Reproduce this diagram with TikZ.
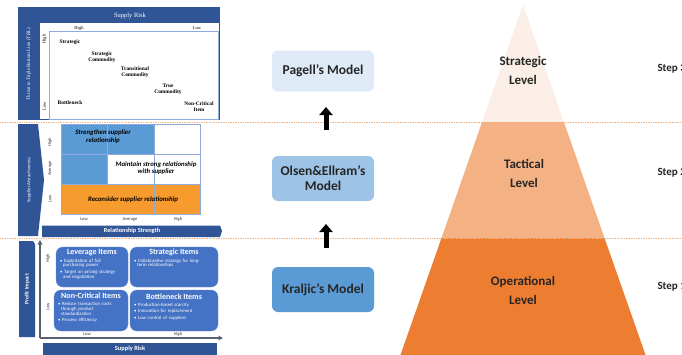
\documentclass[tikz,border=0pt]{standalone}
\usepackage{fontspec}
\setmainfont{Carlito}
\newfontfamily\tms{Liberation Serif}
\usetikzlibrary{arrows.meta}
\definecolor{dkblue}{HTML}{2F5597}
\definecolor{midblue}{HTML}{4472C4}
\definecolor{cellblue}{HTML}{5B9BD5}
\definecolor{gridline}{HTML}{8FAADC}
\definecolor{cellorange}{HTML}{F79B2E}
\definecolor{pyrA}{HTML}{FBEEE6}
\definecolor{pyrB}{HTML}{F4B183}
\definecolor{pyrC}{HTML}{ED7D31}
\definecolor{boxA}{HTML}{DEEBF7}
\definecolor{boxB}{HTML}{9DC3E6}
\definecolor{boxC}{HTML}{5B9BD5}
\definecolor{dashor}{HTML}{F4B183}
\definecolor{axisgray}{HTML}{5A6270}
\tikzset{
  sepline/.style={draw=dashor, line width=0.7pt, dash pattern=on 1pt off 0.7pt},
  modelbox/.style={rounded corners=6pt, minimum width=102pt, minimum height=41pt, align=center, font=\fontsize{13.5}{15}\selectfont\bfseries, text=black!85, inner sep=0pt},
  uparrow/.style={line width=5pt, -{Triangle[width=13pt,length=8pt]}},
  levtext/.style={align=center, font=\fontsize{13}{19}\selectfont\bfseries, text=black!85},
  steptext/.style={anchor=west, font=\fontsize{11}{12}\selectfont\bfseries, text=black!85},
  serlab/.style={align=center, font=\tms\fontsize{5.4}{5.8}\selectfont\bfseries},
  serax/.style={font=\tms\fontsize{4.6}{5}\selectfont},
  whitelab/.style={text=white, align=center},
  gridtext/.style={align=center, font=\fontsize{6.8}{7.4}\selectfont\bfseries\itshape},
  smallax/.style={font=\fontsize{4.5}{5}\selectfont, text=black!80},
  kbox/.style={fill=midblue, draw=midblue!80!white, rounded corners=7pt, line width=0.4pt},
  ktitle/.style={text=white, font=\fontsize{8}{9}\selectfont\bfseries},
  kbullet/.style={text=white, anchor=north west, align=left, font=\fontsize{4.8}{4.9}\selectfont, inner sep=0pt}
}
\begin{document}
\begin{tikzpicture}[x=1pt,y=-1pt]
\useasboundingbox (0,0) rectangle (682,354);
\clip (0,0) rectangle (682,354);
\fill[white] (0,0) rectangle (682,354);

% ---------------- pyramid ----------------
\coordinate (apex) at (523,5);
\coordinate (l1) at (482.1,122); \coordinate (r1) at (563.9,122);
\coordinate (l2) at (441.5,238); \coordinate (r2) at (604.5,238);
\coordinate (l3) at (398,362);   \coordinate (r3) at (648,362);
\fill[pyrA] (apex) -- (r1) -- (l1) -- cycle;
\fill[pyrB] (l1) -- (r1) -- (r2) -- (l2) -- cycle;
\fill[pyrC] (l2) -- (r2) -- (r3) -- (l3) -- cycle;

% separators
\draw[sepline] (0,122) -- (682,122);
\draw[sepline] (0,238) -- (682,238);

\node[levtext] (lvS) at (523,70) {Strategic\\Level};
\node[levtext] (lvT) at (524,173) {Tactical\\Level};
\node[levtext] (lvO) at (523,290) {Operational\\Level};

\node[steptext] (st3) at (654,69) {Step 3};
\node[steptext] (st2) at (654,173) {Step 2};
\node[steptext] (st1) at (654,287) {Step 1};

% ---------------- models ----------------
\node[modelbox, fill=boxA] (pag) at (323,71) {Pagell's Model};
\node[modelbox, fill=boxB, minimum height=45pt] (ols) at (323,178.5) {Olsen\&Ellram's\\Model};
\node[modelbox, fill=boxC, minimum height=45pt] (kra) at (323,289.5) {Kraljic's Model};
\coordinate (a1s) at (326,130); \coordinate (a1e) at (326,107);
\coordinate (a2s) at (326,248); \coordinate (a2e) at (326,224);
\draw[uparrow] (a1s) -- (a1e);
\draw[uparrow] (a2s) -- (a2e);

% ---------------- top-left panel (Pagell) ----------------
\fill[dkblue] (18,7) rectangle (220,120);
\fill[white] (40,23) rectangle (218.5,119);
\draw[gridline, line width=0.6pt] (49,31) rectangle (218,119);
\node[whitelab, font=\tms\fontsize{6.5}{7}\selectfont] (tsr) at (130,15.5) {Supply Risk};
\node[whitelab, rotate=90, font=\tms\fontsize{5}{6}\selectfont] (tbl) at (29,64) {Threat to Triple Bottom Line (TBL)};
\node[serax] (thi) at (79,28) {High};
\node[serax] (tlo) at (197,28) {Low};
\node[serax, rotate=90] (tvh) at (44.5,39) {High};
\node[serax, rotate=90] (tvl) at (44.5,106) {Low};
\node[serlab] (p1) at (70,42) {Strategic};
\node[serlab] (p2) at (102,57) {Strategic\\Commodity};
\node[serlab] (p3) at (135,72) {Transitional\\Commodity};
\node[serlab] (p4) at (168,89) {True\\Commodity};
\node[serlab] (p5) at (70,103) {Bottleneck};
\node[serlab] (p6) at (199,107) {Non-Critical\\Item};

% ---------------- middle-left panel (Olsen & Ellram) ----------------
\fill[dkblue] (18,124) -- (38,124) -- (44,180) -- (38,236) -- (18,236) -- cycle;
\node[whitelab, rotate=90, font=\fontsize{4.8}{6}\selectfont] (satt) at (29,180) {Supplier Attractiveness};
\node[smallax, rotate=90] (mh) at (50,142) {High};
\node[smallax, rotate=90] (ma) at (50,168.5) {Average};
\node[smallax, rotate=90] (ml) at (50,199) {Low};
% cells
\fill[cellblue] (61,124) rectangle (154,154);
\fill[cellblue] (61,154) rectangle (107.5,184.5);
\fill[cellorange] (61,184.5) rectangle (200,214);
\draw[gridline, line width=0.7pt] (61,124) rectangle (200,214);
\draw[gridline, line width=0.7pt] (107.5,124) -- (107.5,214) (154,124) -- (154,214)
  (61,154) -- (200,154) (61,184.5) -- (200,184.5);
\node[gridtext] (g1) at (103,136.5) {Strengthen supplier\\relationship};
\node[gridtext] (g2) at (156,168) {Maintain strong relationship\\with supplier};
\node[gridtext] (g3) at (133,199.5) {Reconsider supplier relationship};
\node[smallax] (bl) at (84,219.5) {Low};
\node[smallax] (ba) at (130,219.5) {Average};
\node[smallax] (bh) at (178,219.5) {High};
\fill[dkblue] (42,225.5) -- (220,225.5) -- (222,231) -- (220,237) -- (42,237) -- cycle;
\node[whitelab, font=\fontsize{6.3}{7}\selectfont\bfseries] (rs) at (132,231) {Relationship Strength};

% ---------------- bottom-left panel (Kraljic) ----------------
\fill[dkblue] (19,241) -- (33,241) -- (35,244) -- (35,337) -- (19,337) -- cycle;
\node[whitelab, rotate=90, font=\fontsize{5.6}{6}\selectfont\bfseries] (pi) at (27,289) {Profit Impact};
\coordinate (orig) at (40,338);
\coordinate (ytop) at (40,240);
\coordinate (xend) at (223,338);
\draw[axisgray, line width=1.2pt, -{Triangle[width=4.5pt,length=4.5pt]}] (orig) -- (ytop);
\draw[axisgray, line width=1.2pt, -{Triangle[width=4.5pt,length=4.5pt]}] (orig) -- (xend);
\node[smallax, rotate=90] (kh) at (48,258) {High};
\node[smallax, rotate=90] (kl) at (48,307) {Low};
\node[smallax] (kxl) at (87,334) {Low};
\node[smallax] (kxh) at (178,334) {High};

\draw[kbox] (56,247) rectangle (128,287);
\draw[kbox] (130,247) rectangle (218,287);
\draw[kbox] (54,290) rectangle (128,331);
\draw[kbox] (130,290) rectangle (218,331);

\node[ktitle] (lev) at (92,252.5) {Leverage Items};
\node[kbullet, text width=64pt] (levb) at (60,258.5) {• Exploitation of full\\\hspace*{3pt}purchasing power\\[1.5pt]• Target on pricing strategy\\\hspace*{3pt}and negotiation};
\node[ktitle] (str) at (174,252.5) {Strategic Items};
\node[kbullet, text width=82pt] (strb) at (134,258.5) {• Collaborative strategy for long-\\\hspace*{3pt}term relationships};
\node[ktitle] (nci) at (91,296) {Non-Critical Items};
\node[kbullet, text width=68pt] (ncib) at (58,302) {• Reduce transaction costs\\\hspace*{3pt}through product\\\hspace*{3pt}standardization\\[1.5pt]• Process efficiency};
\node[ktitle] (bot) at (174,296.5) {Bottleneck Items};
\node[kbullet, text width=82pt] (botb) at (134,303) {• Production-based scarcity\\[1.5pt]• Innovation for replacement\\[1.5pt]• Low control of suppliers};

\fill[dkblue] (43,343) rectangle (217,358);
\node[whitelab, font=\fontsize{6.4}{7}\selectfont\bfseries] (sr) at (130,349) {Supply Risk};
\end{tikzpicture}
\end{document}
